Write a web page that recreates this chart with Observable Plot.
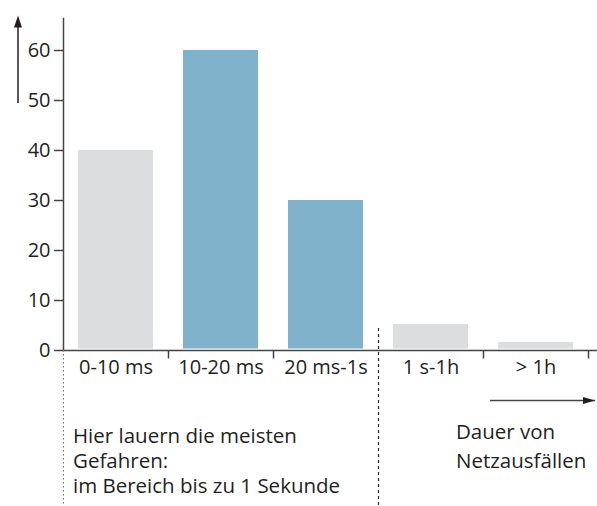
<!DOCTYPE html>
<html><head><meta charset="utf-8">
<script src="https://cdn.jsdelivr.net/npm/d3@7"></script>
<script src="https://cdn.jsdelivr.net/npm/@observablehq/plot@0.6"></script>
<style>body{margin:0;background:#fff} svg{display:block}</style>
</head><body><div id="chart"></div>
<script>
const categories = ["0-10 ms", "10-20 ms", "20 ms-1s", "1 s-1h", "> 1h"];
const values = [40, 60, 30, 5.2, 1.6];
const highlighted = [false, true, true, false, false];
const yTicks = [0, 10, 20, 30, 40, 50, 60];
const noteLeft = "Hier lauern die meisten\nGefahren:\nim Bereich bis zu 1 Sekunde";
const noteRight = "Dauer von\nNetzausfällen";

const data = categories.map((c, i) => ({cat: c, value: values[i], hi: highlighted[i]}));
const ink = "#231f20";
const axisStroke = "#444";
const half = 52.5; // half band width in px

const chart = Plot.plot({
  width: 597, height: 506,
  marginLeft: 63, marginRight: 0, marginTop: 18, marginBottom: 156,
  x: {domain: categories, range: [63, 588], padding: 0, axis: null},
  y: {domain: [0, 66.4], axis: null},
  color: {domain: [false, true], range: ["#dcdddf", "#80b3cb"]},
  style: {fontFamily: "'Open Sans', sans-serif", fontSize: "20px", color: ink, background: "#fff", overflow: "visible"},
  marks: [
    Plot.barY(data, {x: "cat", y: "value", fill: "hi", insetLeft: 15, insetRight: 15, insetBottom: 1.5}),
    Plot.frame({anchor: "left", stroke: axisStroke, strokeWidth: 1.5}),
    Plot.ruleY([0], {stroke: axisStroke, strokeWidth: 1.5}),
    Plot.axisY(yTicks, {tickSize: 9, tickPadding: 4, fontSize: 20, stroke: axisStroke, strokeWidth: 1.5, label: null}),
    Plot.axisX({tickSize: 0, tickPadding: 9, fontSize: 20, label: null}),
    Plot.ruleX([categories[0], categories[1], categories[3], categories[4]], {y1: 0, y2: -1.7, dx: half, stroke: axisStroke, strokeWidth: 1.5}),
    Plot.ruleX([categories[0]], {y1: 0, y2: -31.5, dx: -half, stroke: "#777", strokeWidth: 1, strokeDasharray: "1.5,2.5"}),
    Plot.ruleX([categories[2]], {y1: 4.4, y2: -31.5, dx: half, stroke: "#222", strokeWidth: 1.2, strokeDasharray: "3,3"}),
    // up arrow
    Plot.ruleX([categories[0]], {y1: 49.4, y2: 64.6, dx: -98, stroke: ink, strokeWidth: 1.5}),
    Plot.vector([categories[0]], {x: d => d, y: () => 64.6, dx: -98, shape: "spike", length: 12, r: 4, fill: ink, stroke: "none", anchor: "start"}),
    // right arrow
    Plot.link([0], {x1: () => categories[3], x2: () => categories[4], y1: () => -10, y2: () => -10, dx: 59, stroke: "#444", strokeWidth: 1.5}),
    Plot.vector([categories[4]], {x: d => d, y: () => -10, dx: 47, rotate: 90, shape: "spike", length: 12, r: 3.5, fill: ink, stroke: "none", anchor: "start"}),
    Plot.text([noteLeft], {x: () => categories[0], y: () => -14.8, dx: -43, text: d => d, textAnchor: "start", lineAnchor: "top", lineHeight: 1.24, fontSize: 20.5, fill: ink}),
    Plot.text([noteRight], {x: () => categories[4], y: () => -13.6, dx: -80, text: d => d, textAnchor: "start", lineAnchor: "top", lineHeight: 1.4, fontSize: 20.5, fill: ink})
  ]
});
document.getElementById("chart").append(chart);
</script>
</body></html>
